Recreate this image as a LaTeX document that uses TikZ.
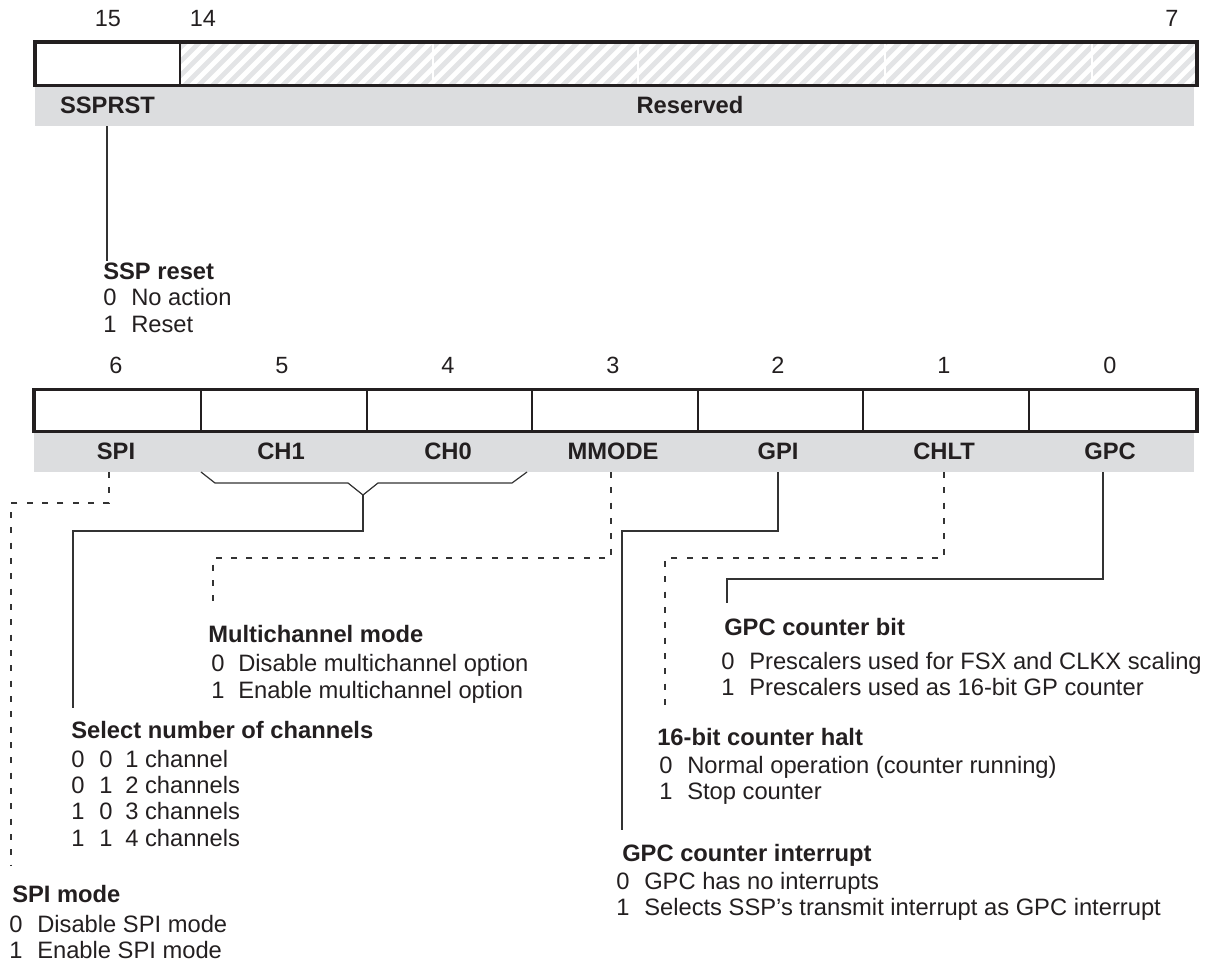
\documentclass[tikz,border=0pt]{standalone}
\usepackage{fontspec}
\setmainfont{Liberation Sans}
\definecolor{ink}{HTML}{231F20}
\definecolor{band}{HTML}{DCDDDF}
\definecolor{hatchc}{HTML}{E3E4E6}
\definecolor{wire}{HTML}{333333}
\begin{document}
\begin{tikzpicture}[x=0.75pt,y=-0.75pt,
  reg/.style={line width=2.6pt, draw=ink},
  divl/.style={line width=1.2pt, draw=ink},
  wirel/.style={line width=0.9pt, draw=wire},
  dashl/.style={line width=0.9pt, draw=wire, dash pattern=on 4.5pt off 7pt},
  bitnum/.style={font=\fontsize{17.6}{21}\selectfont, text=ink, inner sep=0pt, anchor=base},
  field/.style={font=\fontsize{17.8}{21}\selectfont\bfseries, text=ink, inner sep=0pt, anchor=base},
  head/.style={font=\fontsize{17.8}{21}\selectfont\bfseries, text=ink, inner sep=0pt, anchor=base west},
  item/.style={font=\fontsize{17.8}{21}\selectfont, text=ink, inner sep=0pt, anchor=base west},
  hatchl/.style={line width=3.7pt, draw=hatchc},
]
\useasboundingbox (0,0) rectangle (1223,961);

% ---------------- top register ----------------
\fill[band] (35,85.5) rectangle (1194,126);
\begin{scope}
  \clip (180,42) rectangle (1197,85.5);
  \foreach \x in {110,124,...,1210} \draw[hatchl] (\x,90) -- ++(50,-50);
  \foreach \x in {433,638,885,1092} \draw[white, line width=0.8pt] (\x,42) -- (\x,85.5);
\end{scope}
\draw[reg] (35,42) rectangle (1197,85.5);
\draw[line width=1.5pt, draw=ink] (180,42) -- (180,85.5);

\node[bitnum] (b15) at (108,26) {15};
\node[bitnum] (b14) at (203,26) {14};
\node[bitnum] (b7) at (1172,26) {7};
\node[field] (fssprst) at (107.5,113) {SSPRST};
\node[field] (freserved) at (690,113) {Reserved};

% ---------------- bottom register ----------------
\fill[band] (34,431.5) rectangle (1194,472);
\draw[reg] (34,389.5) rectangle (1197,431.5);
\foreach \x in {201,367,532,698,863,1029} \draw[divl] (\x,389.5) -- (\x,431.5);

\node[bitnum] (b6) at (116,373) {6};
\node[bitnum] (b5) at (282,373) {5};
\node[bitnum] (b4) at (448,373) {4};
\node[bitnum] (b3) at (613,373) {3};
\node[bitnum] (b2) at (778,373) {2};
\node[bitnum] (b1) at (944,373) {1};
\node[bitnum] (b0) at (1110,373) {0};

\node[field] (fspi) at (116,459) {SPI};
\node[field] (fch1) at (281,459) {CH1};
\node[field] (fch0) at (448,459) {CH0};
\node[field] (fmmode) at (613,459) {MMODE};
\node[field] (fgpi) at (778,459) {GPI};
\node[field] (fchlt) at (944,459) {CHLT};
\node[field] (fgpc) at (1110,459) {GPC};

% ---------------- connector coordinates ----------------
\coordinate (sspC) at (107,126);   \coordinate (sspE) at (107,261);
\coordinate (spiC) at (109,472);   \coordinate (spiE) at (11,865);
\coordinate (brkL) at (201,472);   \coordinate (brkR) at (527,472);
\coordinate (brk) at (363,495);    \coordinate (selE) at (73,708);
\coordinate (mmC) at (611,472);    \coordinate (mmE) at (213,607);
\coordinate (gpiC) at (778,472);   \coordinate (gpiE) at (622,830);
\coordinate (chC) at (944,472);    \coordinate (chE) at (665,712);
\coordinate (gpcC) at (1103,472);  \coordinate (gpcE) at (727,603);

\draw[wirel] (sspC) -- (sspE);
\draw[dashl] (spiC) -- ++(0,31) -| (spiE);
\draw[wirel] (brkL) -- ++(14,11) -- ++(133,0) -- (brk) -- ++(15,-12) -- ++(134,0) -- (brkR);
\draw[wirel] (brk) -- ++(0,36) -| (selE);
\draw[dashl] (mmC) -- ++(0,86) -| (mmE);
\draw[wirel] (gpiC) -- ++(0,59) -| (gpiE);
\draw[dashl] (chC) -- ++(0,86) -| (chE);
\draw[wirel] (gpcC) -- ++(0,107) -| (gpcE);

% ---------------- descriptions ----------------
\node[head] (hssp) at (103,279) {SSP reset};
\node[item] (ssp0d) at (103,305) {0}; \node[item] (ssp0t) at (131,305) {No action};
\node[item] (ssp1d) at (103,332) {1}; \node[item] (ssp1t) at (131,332) {Reset};

\node[head] (hmm) at (208,642) {Multichannel mode};
\node[item] (mm0d) at (211,671) {0}; \node[item] (mm0t) at (238,671) {Disable multichannel option};
\node[item] (mm1d) at (211,698) {1}; \node[item] (mm1t) at (238,698) {Enable multichannel option};

\node[head] (hsel) at (71,738) {Select number of channels};
\node[item] (s1a) at (71,767) {0}; \node[item] (s1b) at (99,767) {0}; \node[item] (s1t) at (125,767) {1 channel};
\node[item] (s2a) at (71,793) {0}; \node[item] (s2b) at (99,793) {1}; \node[item] (s2t) at (125,793) {2 channels};
\node[item] (s3a) at (71,819) {1}; \node[item] (s3b) at (99,819) {0}; \node[item] (s3t) at (125,819) {3 channels};
\node[item] (s4a) at (71,846) {1}; \node[item] (s4b) at (99,846) {1}; \node[item] (s4t) at (125,846) {4 channels};

\node[head] (hspi) at (12,902) {SPI mode};
\node[item] (spi0d) at (9,932) {0}; \node[item] (spi0t) at (37,932) {Disable SPI mode};
\node[item] (spi1d) at (9,958) {1}; \node[item] (spi1t) at (37,958) {Enable SPI mode};

\node[head] (hgpc) at (724,635) {GPC counter bit};
\node[item] (gpc0d) at (721,669) {0}; \node[item] (gpc0t) at (749,669) {Prescalers used for FSX and CLKX scaling};
\node[item] (gpc1d) at (721,695) {1}; \node[item] (gpc1t) at (749,695) {Prescalers used as 16-bit GP counter};

\node[head] (hch) at (657,745) {16-bit counter halt};
\node[item] (ch0d) at (659,773) {0}; \node[item] (ch0t) at (687,773) {Normal operation (counter running)};
\node[item] (ch1d) at (659,799) {1}; \node[item] (ch1t) at (687,799) {Stop counter};

\node[head] (hgpi) at (622,861) {GPC counter interrupt};
\node[item] (gpi0d) at (616,889) {0}; \node[item] (gpi0t) at (644,889) {GPC has no interrupts};
\node[item] (gpi1d) at (616,915) {1}; \node[item] (gpi1t) at (644,915) {Selects SSP’s transmit interrupt as GPC interrupt};
\end{tikzpicture}
\end{document}
